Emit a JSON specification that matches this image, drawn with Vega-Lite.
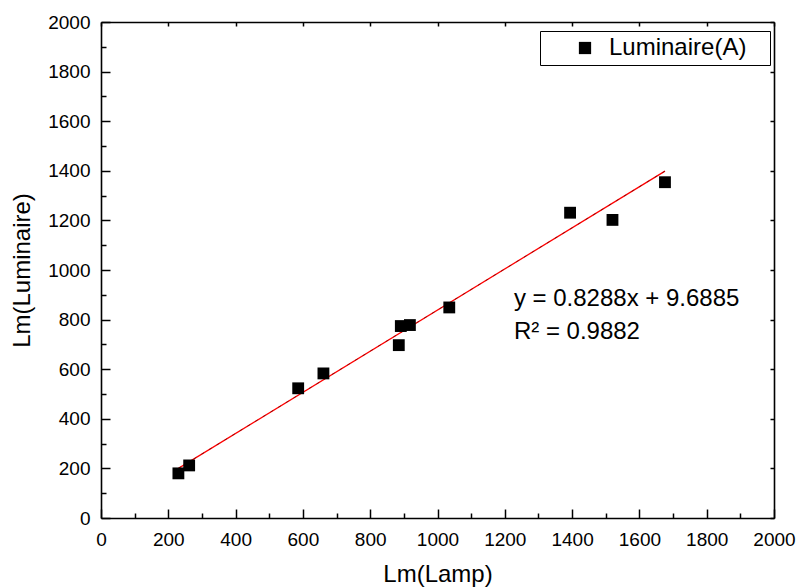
{
  "$schema": "https://vega.github.io/schema/vega-lite/v6.json",
  "width": 673,
  "height": 496,
  "autosize": {"type": "none"},
  "padding": {"left": 101, "top": 22, "right": 23, "bottom": 70},
  "background": "white",
  "config": {
    "view": {"stroke": null},
    "font": "Liberation Sans",
    "axis": {
      "grid": false,
      "domainColor": "black",
      "domainWidth": 1.6,
      "tickColor": "black",
      "tickWidth": 1.5,
      "labelColor": "black",
      "labelFont": "Liberation Sans",
      "labelFontSize": 19,
      "titleFont": "Liberation Sans",
      "titleFontSize": 24,
      "titleFontWeight": "normal",
      "titleColor": "black",
      "labelFlush": false,
      "labelOverlap": false,
      "format": "d"
    }
  },
  "datasets": {
    "points": [
      {"lamp": 230, "luminaire": 180, "series": "Luminaire(A)"},
      {"lamp": 262, "luminaire": 212, "series": "Luminaire(A)"},
      {"lamp": 586, "luminaire": 523, "series": "Luminaire(A)"},
      {"lamp": 661, "luminaire": 583, "series": "Luminaire(A)"},
      {"lamp": 885, "luminaire": 697, "series": "Luminaire(A)"},
      {"lamp": 891, "luminaire": 774, "series": "Luminaire(A)"},
      {"lamp": 918, "luminaire": 778, "series": "Luminaire(A)"},
      {"lamp": 1035, "luminaire": 849, "series": "Luminaire(A)"},
      {"lamp": 1394, "luminaire": 1231, "series": "Luminaire(A)"},
      {"lamp": 1520, "luminaire": 1202, "series": "Luminaire(A)"},
      {"lamp": 1676, "luminaire": 1354, "series": "Luminaire(A)"}
    ],
    "fit": [
      {"lamp": 230, "luminaire": 200.3},
      {"lamp": 1676, "luminaire": 1398.8}
    ],
    "notes": [
      {"lamp": 1227, "luminaire": 856, "label": "y = 0.8288x + 9.6885"},
      {"lamp": 1227, "luminaire": 720, "label": "R² = 0.9882"}
    ]
  },
  "layer": [
    {
      "data": {"name": "fit"},
      "mark": {"type": "line", "color": "#ff0000", "strokeWidth": 1.3},
      "encoding": {
        "x": {
          "field": "lamp", "type": "quantitative",
          "scale": {"domain": [0, 2000], "nice": false},
          "axis": {
            "orient": "bottom",
            "values": [100, 300, 500, 700, 900, 1100, 1300, 1500, 1700, 1900],
            "tickSize": -5,
            "labels": false,
            "domain": false,
            "title": null
          }
        },
        "y": {
          "field": "luminaire", "type": "quantitative",
          "scale": {"domain": [0, 2000], "nice": false},
          "axis": {
            "orient": "left",
            "values": [100, 300, 500, 700, 900, 1100, 1300, 1500, 1700, 1900],
            "tickSize": -5,
            "labels": false,
            "domain": false,
            "title": null
          }
        }
      }
    },
    {
      "data": {"name": "fit"},
      "mark": {"type": "line", "color": "#400000", "strokeWidth": 1, "strokeDash": [3, 6], "opacity": 0.55},
      "encoding": {
        "x": {"field": "lamp", "type": "quantitative", "axis": null},
        "y": {"field": "luminaire", "type": "quantitative", "axis": null}
      }
    },
    {
      "data": {"name": "points"},
      "mark": {"type": "point", "shape": "square", "filled": true, "size": 140, "opacity": 1},
      "encoding": {
        "x": {
          "field": "lamp", "type": "quantitative",
          "axis": {
            "orient": "bottom",
            "values": [0, 200, 400, 600, 800, 1000, 1200, 1400, 1600, 1800, 2000],
            "tickSize": -9,
            "labelPadding": 21,
            "title": "Lm(Lamp)",
            "titlePadding": 13
          }
        },
        "y": {
          "field": "luminaire", "type": "quantitative",
          "axis": {
            "orient": "left",
            "values": [0, 200, 400, 600, 800, 1000, 1200, 1400, 1600, 1800, 2000],
            "tickSize": -9,
            "labelPadding": 20,
            "title": "Lm(Luminaire)",
            "titlePadding": 13
          }
        },
        "color": {
          "field": "series", "type": "nominal",
          "scale": {"range": ["black"]},
          "legend": {
            "title": null,
            "orient": "none",
            "legendX": 439,
            "legendY": 9,
            "direction": "vertical",
            "padding": 5,
            "strokeColor": "black",
            "fillColor": "white",
            "symbolType": "square",
            "symbolSize": 150,
            "symbolStrokeWidth": 0,
            "symbolOffset": 28,
            "labelOffset": 12,
            "labelFont": "Liberation Sans",
            "labelFontSize": 24,
            "labelColor": "black",
            "labelExpr": "datum.label + '\u2800'"
          }
        }
      }
    },
    {
      "data": {"name": "notes"},
      "mark": {"type": "text", "align": "left", "baseline": "alphabetic", "font": "Liberation Sans", "fontSize": 24, "color": "black"},
      "encoding": {
        "x": {
          "field": "lamp", "type": "quantitative",
          "axis": {
            "orient": "top",
            "values": [0, 200, 400, 600, 800, 1000, 1200, 1400, 1600, 1800, 2000],
            "tickSize": -4,
            "labels": false,
            "title": null
          }
        },
        "y": {
          "field": "luminaire", "type": "quantitative",
          "axis": {
            "orient": "right",
            "values": [0, 200, 400, 600, 800, 1000, 1200, 1400, 1600, 1800, 2000],
            "tickSize": -4,
            "labels": false,
            "title": null
          }
        },
        "text": {"field": "label"}
      }
    }
  ],
  "resolve": {"axis": {"x": "independent", "y": "independent"}}
}
